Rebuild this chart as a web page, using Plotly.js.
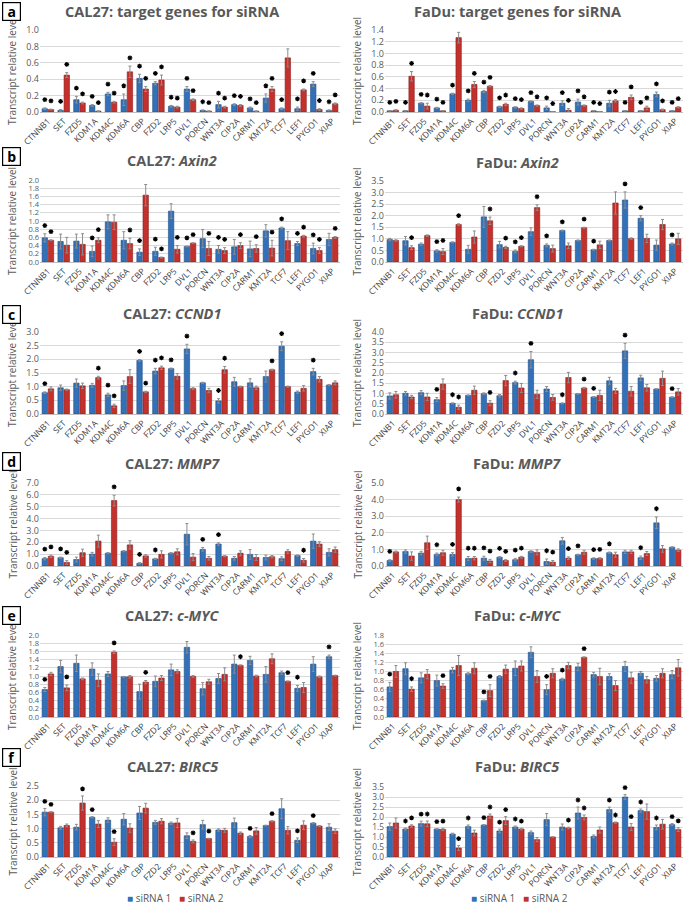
<!DOCTYPE html>
<html><head><meta charset="utf-8">
<script src="https://cdn.plot.ly/plotly-3.0.1.min.js"></script>
<style>html,body{margin:0;padding:0;background:#fff}#chart{width:685px;height:906px}</style>
</head><body><div id="chart"></div>
<script>
const genes = ["CTNNB1","SET","FZD5","KDM1A","KDM4C","KDM6A","CBP","FZD2","LRP5","DVL1","PORCN","WNT3A","CIP2A","CARM1","KMT2A","TCF7","LEF1","PYGO1","XIAP"];
const seriesNames = ["siRNA 1","siRNA 2"];

// a: CAL27 target genes
const calTarget_si1 = [0.04,0.02,0.15,0.08,0.22,0.15,0.41,0.35,0.07,0.28,0.02,0.09,0.09,0.05,0.17,0.04,0.04,0.34,0.02];
const calTarget_err1 = [0.01,0.01,0.04,0.01,0.02,0.07,0.05,0.02,0.01,0.03,0.005,0.04,0.01,0.01,0.05,0.01,0.02,0.03,0.005];
const calTarget_si2 = [0.03,0.45,0.11,0.01,0.12,0.49,0.28,0.39,0.06,0.15,0.01,0.06,0.08,0.01,0.28,0.66,0.27,0.03,0.10];
const calTarget_err2 = [0.005,0.03,0.01,0.005,0.01,0.07,0.03,0.06,0.01,0.01,0.005,0.01,0.01,0.005,0.03,0.11,0.01,0.01,0.01];
const calTarget_sig1 = [1,1,1,1,1,1,1,1,1,1,1,1,1,1,1,1,1,1,1];
const calTarget_sig2 = [1,1,1,1,1,1,1,1,1,1,1,1,1,1,1,0,1,1,1];
// a: FaDu target genes
const faTarget_si1 = [0.02,0.02,0.15,0.07,0.31,0.20,0.35,0.09,0.08,0.18,0.07,0.15,0.17,0.02,0.15,0.02,0.02,0.30,0.02];
const faTarget_err1 = [0.005,0.005,0.01,0.01,0.01,0.02,0.02,0.01,0.01,0.01,0.03,0.04,0.05,0.005,0.05,0.005,0.005,0.04,0.005];
const faTarget_si2 = [0.03,0.61,0.10,0.02,1.27,0.47,0.44,0.13,0.06,0.11,0.005,0.03,0.11,0.005,0.19,0.25,0.07,0.04,0.08];
const faTarget_err2 = [0.01,0.08,0.05,0.005,0.09,0.05,0.01,0.02,0.01,0.01,0,0.03,0.01,0,0.02,0.04,0.03,0.01,0.01];
const faTarget_sig1 = [1,1,1,1,1,1,1,1,1,1,1,1,1,1,1,1,1,1,1];
const faTarget_sig2 = [1,1,1,1,0,1,1,1,1,1,1,1,1,1,1,1,1,1,1];
// b: Axin2
const calAxin2_si1 = [0.59,0.50,0.51,0.26,0.98,0.53,0.24,0.26,1.24,0.38,0.57,0.31,0.37,0.32,0.76,0.83,0.45,0.33,0.55];
const calAxin2_err1 = [0.10,0.18,0.17,0.13,0.17,0.21,0.08,0.10,0.18,0.01,0.22,0.09,0.18,0.19,0.15,0.02,0.05,0.13,0.15];
const calAxin2_si2 = [0.53,0.41,0.43,0.53,0.97,0.45,1.63,0.11,0.31,0.46,0.33,0.28,0.40,0.33,0.34,0.52,0.63,0.28,0.60];
const calAxin2_err2 = [0.01,0.19,0.26,0.06,0.18,0.13,0.26,0.01,0.09,0.01,0.17,0.07,0.07,0.09,0.19,0.22,0.02,0.07,0.02];
const calAxin2_sig1 = [1,0,0,1,0,0,1,1,0,1,0,1,0,0,0,1,1,1,0];
const calAxin2_sig2 = [1,0,0,1,0,1,0,1,1,1,1,1,1,1,1,0,1,1,1];
const faAxin2_si1 = [0.97,0.92,0.77,0.48,0.85,0.55,1.95,0.75,0.46,1.31,0.72,1.36,0.93,0.53,0.93,2.68,1.89,0.73,0.78];
const faAxin2_err1 = [0.05,0.18,0.05,0.05,0.02,0.17,0.45,0.14,0.06,0.17,0.06,0.02,0.02,0.02,0.02,0.35,0.11,0.22,0.04];
const faAxin2_si2 = [0.93,0.62,1.14,0.45,1.62,1.08,1.78,0.63,0.68,2.35,0.58,0.70,1.48,0.74,2.55,1.01,1.02,1.62,1.00];
const faAxin2_err2 = [0.03,0.08,0.03,0.13,0.03,0.26,0.16,0.05,0.02,0.12,0.15,0.12,0.02,0.16,0.48,0.03,0.18,0.22,0.24];
const faAxin2_sig1 = [0,0,0,1,0,0,0,0,1,0,1,1,0,1,0,1,1,0,1];
const faAxin2_sig2 = [0,1,0,1,1,0,1,1,1,1,0,0,1,0,0,0,0,0,0];
// c: CCND1
const calCcnd1_si1 = [0.78,0.96,1.13,1.05,0.70,1.04,1.96,1.57,1.66,2.38,1.14,0.48,1.18,1.14,1.37,2.48,0.80,1.55,1.06];
const calCcnd1_err1 = [0.03,0.10,0.15,0.07,0.06,0.17,0.03,0.10,0.02,0.17,0.02,0.08,0.16,0.15,0.20,0.16,0.04,0.12,0.02];
const calCcnd1_si2 = [0.92,0.89,1.03,1.33,0.30,1.37,0.81,1.69,1.38,0.93,0.86,1.62,1.00,0.96,1.62,1.00,0.94,1.27,1.14];
const calCcnd1_err2 = [0.07,0.02,0.10,0.05,0.06,0.25,0.02,0.06,0.10,0.03,0.08,0.12,0.02,0.06,0.02,0.02,0.10,0.10,0.07];
const calCcnd1_sig1 = [1,0,0,0,1,0,1,1,1,1,0,1,0,0,0,1,0,1,0];
const calCcnd1_sig2 = [0,0,0,1,1,0,1,1,0,0,0,1,0,0,1,0,0,0,0];
const faCcnd1_si1 = [0.88,1.01,1.04,0.70,0.52,0.91,0.99,0.89,1.53,2.65,1.22,0.52,0.98,0.83,1.62,3.08,1.76,1.22,0.82];
const faCcnd1_err1 = [0.15,0.09,0.10,0.10,0.02,0.02,0.04,0.06,0.07,0.40,0.12,0.02,0.02,0.02,0.17,0.37,0.13,0.02,0.02];
const faCcnd1_si2 = [0.94,0.83,0.83,1.46,0.33,1.16,0.53,1.63,1.27,0.96,0.81,1.78,1.27,0.91,1.13,1.11,1.28,1.74,1.08];
const faCcnd1_err2 = [0.16,0.08,0.18,0.25,0.10,0.20,0.12,0.25,0.22,0.20,0.14,0.25,0.03,0.25,0.12,0.23,0.16,0.35,0.16];
const faCcnd1_sig1 = [0,0,0,1,1,0,0,0,1,1,0,1,0,1,0,1,0,0,1];
const faCcnd1_sig2 = [0,0,0,0,1,0,1,0,0,0,0,0,1,0,0,0,0,0,0];
// d: MMP7
const calMmp7_si1 = [0.62,0.70,0.55,1.00,1.08,1.25,0.23,0.60,1.08,2.68,1.40,1.85,0.65,0.98,0.72,0.62,0.88,2.10,1.15];
const calMmp7_err1 = [0.10,0.05,0.20,0.15,0.05,0.05,0.05,0.05,0.05,0.90,0.15,0.10,0.15,0.40,0.20,0.15,0.05,0.60,0.30];
const calMmp7_si2 = [0.82,0.30,1.12,2.10,5.52,1.78,0.85,0.98,1.20,0.75,0.65,0.82,1.08,0.72,0.78,1.22,0.48,1.85,1.38];
const calMmp7_err2 = [0.10,0.15,0.30,0.50,0.45,0.35,0.10,0.30,0.25,0.30,0.15,0.05,0.20,0.25,0.10,0.15,0.15,0.20,0.22];
const calMmp7_sig1 = [1,1,0,0,0,0,1,1,0,0,1,1,0,0,0,0,0,0,0];
const calMmp7_sig2 = [1,1,0,0,1,0,0,0,0,0,0,0,0,0,0,0,1,0,0];
const faMmp7_si1 = [0.33,0.87,0.78,0.70,0.70,0.45,0.47,0.53,0.38,0.87,0.27,1.52,0.68,0.45,0.80,0.85,0.50,2.60,1.13];
const faMmp7_err1 = [0.05,0.10,0.10,0.08,0.10,0.12,0.12,0.03,0.08,0.05,0.15,0.20,0.03,0.04,0.04,0.10,0.10,0.35,0.03];
const faMmp7_si2 = [0.85,0.60,1.40,0.80,4.00,0.47,0.30,0.33,0.53,0.82,0.23,0.47,0.83,0.46,0.68,0.85,0.75,1.03,0.95];
const faMmp7_err2 = [0.05,0.25,0.40,0.15,0.15,0.10,0.10,0.05,0.05,0.15,0.10,0.08,0.12,0.04,0.15,0.10,0.12,0.20,0.08];
const faMmp7_sig1 = [1,0,0,1,1,1,1,1,1,0,1,0,1,1,1,0,1,1,0];
const faMmp7_sig2 = [0,0,0,0,1,1,1,1,1,0,1,1,0,1,0,0,0,0,0];
// e: c-MYC
const calMyc_si1 = [0.67,1.23,1.31,1.17,1.05,0.98,0.62,0.87,1.15,1.70,0.69,0.94,1.29,1.38,1.04,1.08,0.70,1.29,1.47];
const calMyc_err1 = [0.05,0.15,0.20,0.15,0.06,0.01,0.18,0.13,0.14,0.14,0.15,0.12,0.22,0.10,0.19,0.04,0.07,0.18,0.04];
const calMyc_si2 = [1.05,0.71,0.93,0.90,1.58,0.98,0.85,0.95,1.11,0.99,0.86,1.04,1.26,1.00,1.42,0.87,0.72,0.98,1.01];
const calMyc_err2 = [0.04,0.07,0.02,0.15,0.03,0.03,0.04,0.06,0.04,0.02,0.06,0.16,0.01,0.02,0.12,0.01,0.12,0.02,0.01];
const calMyc_sig1 = [1,0,0,0,0,0,0,0,0,1,0,0,0,0,0,0,1,0,1];
const calMyc_sig2 = [0,1,0,0,1,0,1,0,0,0,0,0,1,0,0,1,0,0,0];
const faMyc_si1 = [0.66,1.06,0.86,0.80,1.03,0.95,0.36,0.89,1.07,1.42,0.60,0.83,1.10,0.93,0.89,1.11,0.96,0.85,0.93];
const faMyc_err1 = [0.10,0.13,0.11,0.12,0.06,0.02,0.01,0.02,0.16,0.12,0.11,0.02,0.08,0.05,0.06,0.11,0.04,0.06,0.09];
const faMyc_si2 = [1.00,0.61,0.94,0.68,1.13,1.07,0.58,1.05,1.12,0.89,0.96,1.13,1.31,0.89,0.69,0.86,0.82,0.96,1.08];
const faMyc_err2 = [0.13,0.05,0.10,0.05,0.22,0.12,0.13,0.09,0.11,0.13,0.10,0.07,0.01,0.18,0.11,0.12,0.07,0.10,0.18];
const faMyc_sig1 = [1,0,0,0,0,0,1,0,0,0,1,1,0,0,0,0,0,0,0];
const faMyc_sig2 = [0,1,0,1,0,0,1,0,0,0,0,0,1,0,0,0,0,0,0];
// f: BIRC5
const calBirc5_si1 = [1.58,1.03,1.05,1.40,1.30,1.33,1.55,1.22,1.19,0.75,1.14,0.95,1.21,0.72,1.11,1.70,0.59,1.19,1.05];
const calBirc5_err1 = [0.13,0.05,0.10,0.02,0.08,0.20,0.23,0.07,0.04,0.10,0.15,0.04,0.16,0.04,0.01,0.35,0.08,0.02,0.12];
const calBirc5_si2 = [1.58,1.11,1.90,1.16,0.52,1.02,1.72,1.26,1.20,0.55,0.65,0.94,0.84,0.92,1.26,0.94,1.12,1.09,0.91];
const calBirc5_err2 = [0.02,0.05,0.25,0.12,0.12,0.15,0.17,0.09,0.16,0.05,0.01,0.07,0.04,0.12,0.02,0.13,0.15,0.02,0.08];
const calBirc5_sig1 = [1,0,0,1,0,0,0,0,0,0,0,0,0,1,0,0,1,1,0];
const calBirc5_sig2 = [1,0,1,0,1,0,0,0,0,1,1,0,0,0,1,0,0,0,0];
const faBirc5_si1 = [1.52,1.40,1.67,1.40,1.15,1.52,1.60,1.30,1.50,1.22,1.87,1.50,2.20,1.03,2.37,3.00,2.32,1.48,1.62];
const faBirc5_err1 = [0.18,0.05,0.12,0.02,0.04,0.08,0.02,0.09,0.05,0.08,0.30,0.15,0.30,0.07,0.12,0.12,0.08,0.12,0.05];
const faBirc5_si2 = [1.70,1.55,1.66,1.38,0.45,1.20,2.05,1.82,1.40,0.87,1.00,1.45,1.98,1.35,1.72,1.50,2.27,1.64,1.37];
const faBirc5_err2 = [0.25,0.06,0.14,0.06,0.12,0.14,0.10,0.20,0.04,0.10,0.01,0.04,0.12,0.15,0.03,0.17,0.38,0.24,0.09];
const faBirc5_sig1 = [0,1,1,1,0,1,1,1,1,0,0,0,1,0,1,1,1,1,1];
const faBirc5_sig2 = [0,1,1,1,1,0,1,1,1,0,0,1,1,0,1,1,0,0,1];

const panelTitles = [
  ["CAL27: target genes for siRNA","FaDu: target genes for siRNA"],
  ["CAL27: <i>Axin2</i>","FaDu: <i>Axin2</i>"],
  ["CAL27: <i>CCND1</i>","FaDu: <i>CCND1</i>"],
  ["CAL27: <i>MMP7</i>","FaDu: <i>MMP7</i>"],
  ["CAL27: <i>c-MYC</i>","FaDu: <i>c-MYC</i>"],
  ["CAL27: <i>BIRC5</i>","FaDu: <i>BIRC5</i>"]
];
const panelLetters = ["a","b","c","d","e","f"];
const yMax = [[1.0,1.4],[2.0,3.5],[3.0,4.0],[7.0,5.0],[2.0,1.8],[2.5,3.5]];
const yStep = [[0.2,0.2],[0.2,0.5],[0.5,0.5],[1,1],[0.2,0.2],[0.5,0.5]];

const panelData = [
  [[calTarget_si1,calTarget_err1,calTarget_si2,calTarget_err2,calTarget_sig1,calTarget_sig2],
   [faTarget_si1,faTarget_err1,faTarget_si2,faTarget_err2,faTarget_sig1,faTarget_sig2]],
  [[calAxin2_si1,calAxin2_err1,calAxin2_si2,calAxin2_err2,calAxin2_sig1,calAxin2_sig2],
   [faAxin2_si1,faAxin2_err1,faAxin2_si2,faAxin2_err2,faAxin2_sig1,faAxin2_sig2]],
  [[calCcnd1_si1,calCcnd1_err1,calCcnd1_si2,calCcnd1_err2,calCcnd1_sig1,calCcnd1_sig2],
   [faCcnd1_si1,faCcnd1_err1,faCcnd1_si2,faCcnd1_err2,faCcnd1_sig1,faCcnd1_sig2]],
  [[calMmp7_si1,calMmp7_err1,calMmp7_si2,calMmp7_err2,calMmp7_sig1,calMmp7_sig2],
   [faMmp7_si1,faMmp7_err1,faMmp7_si2,faMmp7_err2,faMmp7_sig1,faMmp7_sig2]],
  [[calMyc_si1,calMyc_err1,calMyc_si2,calMyc_err2,calMyc_sig1,calMyc_sig2],
   [faMyc_si1,faMyc_err1,faMyc_si2,faMyc_err2,faMyc_sig1,faMyc_sig2]],
  [[calBirc5_si1,calBirc5_err1,calBirc5_si2,calBirc5_err2,calBirc5_sig1,calBirc5_sig2],
   [faBirc5_si1,faBirc5_err1,faBirc5_si2,faBirc5_err2,faBirc5_sig1,faBirc5_sig2]]
];

// ---- layout geometry (pixels) ----
const W = 685, H = 906;
const colX = [[40,340],[385,683]];
const rowY = [[[30,112],[30,112]],[[180,262],[181,262]],[[332,414],[332,414]],[[483,566],[483,566]],[[635,717],[635,717]],[[786,857],[787,857]]];
const titleY = [[12,12],[160,162],[313,313],[464,464],[615,615],[766,766]];
const titleX = [172,517];
const letterTop = [2,147,305,452,606,748];
const yTitleX = [12,357];
const legendX = [175,519], legendY = 898;

const BAR_GAP = 0.22, GROUP_GAP = 0.12;
const starOff = (1 - BAR_GAP) / 4;
const idx = genes.map((g,i)=>i);
const COLORS = ['#3270b8','#c4302c'], LINES = ['#234f88','#8c1f1c'];
const grey = '#595959';
const FONT = 'Open Sans, Liberation Sans, sans-serif';

const traces = [];
const layout = {
  width: W, height: H, margin:{l:0,r:0,t:0,b:0},
  paper_bgcolor:'#fff', plot_bgcolor:'#fff',
  barmode:'group', bargap: BAR_GAP, bargroupgap: GROUP_GAP,
  font:{family:FONT, color:grey},
  annotations: [],
  showlegend: false
};

let k = 0;
for (let r = 0; r < 6; r++) {
  for (let c = 0; c < 2; c++) {
    k++;
    const xa = 'x' + (k===1?'':k), ya = 'y' + (k===1?'':k);
    const xkey = 'xaxis' + (k===1?'':k), ykey = 'yaxis' + (k===1?'':k);
    const [s1,e1,s2,e2,g1,g2] = panelData[r][c];
    const ym = yMax[r][c];
    [[s1,e1],[s2,e2]].forEach(([s,e],j) => {
      traces.push({type:'bar', x: idx, y: s, name: seriesNames[j], xaxis: xa, yaxis: ya,
        marker:{color:COLORS[j], line:{color:LINES[j], width:0.6}},
        error_y:{type:'data', array:e, visible:true, color:'#8c8c8c', thickness:1, width:1.5},
        hoverinfo:'skip'});
    });
    const pad = 0.1 * ym;
    const sx = [], sy = [];
    idx.forEach(i => {
      if (g1[i]) { sx.push(i - starOff); sy.push(s1[i] + e1[i] + pad); }
      if (g2[i]) { sx.push(i + starOff); sy.push(s2[i] + e2[i] + pad); }
    });
    traces.push({type:'scatter', mode:'markers', x: sx, y: sy, xaxis: xa, yaxis: ya,
      marker:{symbol:'asterisk-open', size:4, color:'#000', line:{color:'#000', width:1.2}},
      cliponaxis:false, hoverinfo:'skip'});

    const [x0,x1] = colX[c];
    const [t0,b0] = rowY[r][c];
    const spacing = (b0 - t0) / (ym / yStep[r][c]);
    const yFont = Math.min(9, Math.max(7.5, spacing - 1.6));
    layout[xkey] = {domain:[x0/W, x1/W], anchor: ya, range:[-0.5, genes.length-0.5],
      tickmode:'array', tickvals: idx, ticktext: genes, tickangle:-45,
      tickfont:{size:8.5, color:'#404040', family:FONT}, showgrid:false, zeroline:false,
      showline:true, linecolor:'#bfbfbf', linewidth:1, ticks:'', fixedrange:true};
    layout[ykey] = {domain:[1-b0/H, 1-t0/H], anchor: xa, range:[0, ym], dtick: yStep[r][c], tick0:0,
      tickformat:'.1f', tickfont:{size:yFont, color:grey, family:FONT}, showgrid:true, gridcolor:'#d9d9d9',
      gridwidth:1, zeroline:false, showline:false, ticks:'', fixedrange:true};

    layout.annotations.push({text:'<b>'+panelTitles[r][c]+'</b>', xref:'paper', yref:'paper',
      x: titleX[c]/W, y: 1 - titleY[r][c]/H, xanchor:'center', yanchor:'middle', showarrow:false,
      font:{size:14.5, color:grey, family:FONT}});
    layout.annotations.push({text:'Transcript relative level', xref:'paper', yref:'paper',
      x: yTitleX[c]/W, y: 1 - (t0+b0)/2/H, xanchor:'center', yanchor:'middle', textangle:-90, showarrow:false,
      font:{size:10, color:grey, family:FONT}});
  }
  layout.annotations.push({text:'<b>'+panelLetters[r]+'</b>', xref:'paper', yref:'paper',
    x: 2/W, y: 1 - letterTop[r]/H, xanchor:'left', yanchor:'top', showarrow:false,
    width:16, height:16, borderpad:0.5, bordercolor:'#000', borderwidth:1.2, bgcolor:'#fff',
    font:{size:14, color:'#000', family:FONT}});
}
// legends (one under each column)
const legendText = seriesNames.map((n,j)=>'<span style="color:'+COLORS[j]+'">■</span> '+n).join('&nbsp;&nbsp;&nbsp;');
legendX.forEach(lx => {
  layout.annotations.push({text: legendText, xref:'paper', yref:'paper', x: lx/W, y: 1 - legendY/H,
    xanchor:'center', yanchor:'middle', showarrow:false, font:{size:10, color:grey, family:FONT}});
});

Plotly.newPlot('chart', traces, layout, {staticPlot:true, displayModeBar:false});
</script>
</body></html>
